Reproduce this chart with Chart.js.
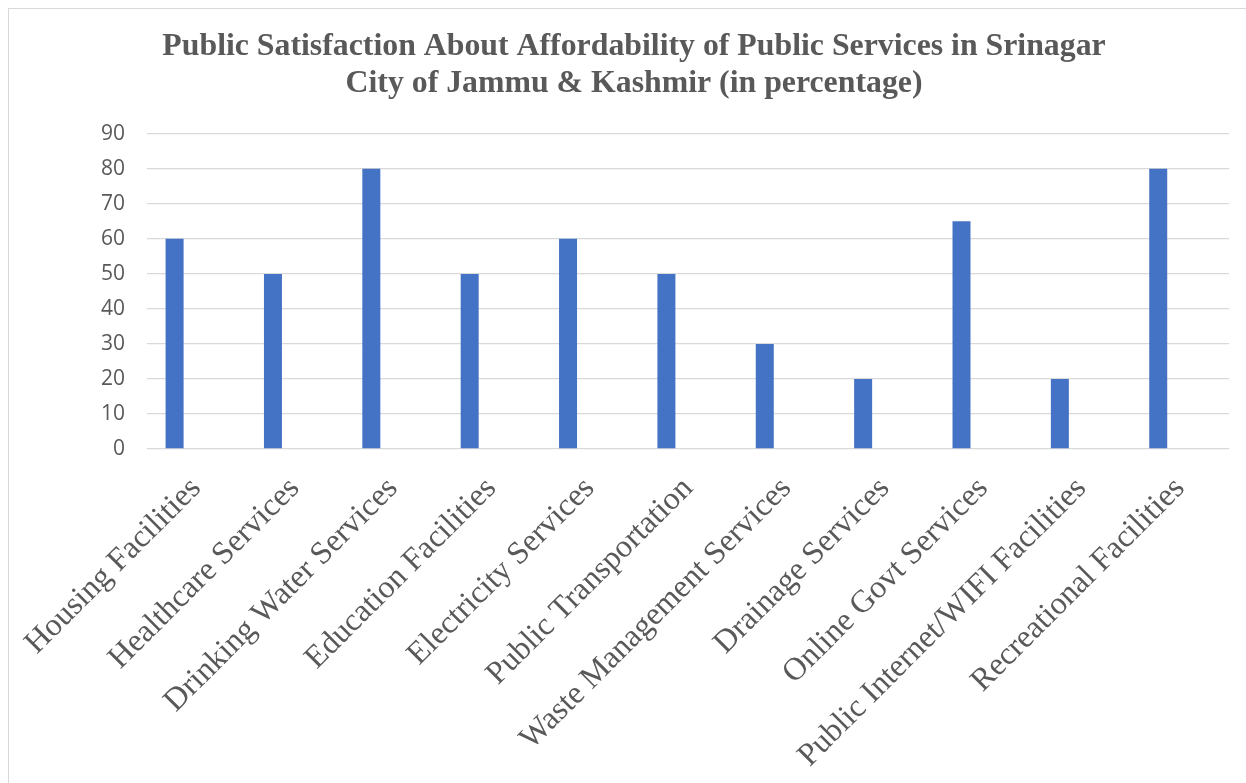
<!DOCTYPE html>
<html>
<head>
<meta charset="utf-8">
<title>Public Services Affordability</title>
<script src="https://cdn.jsdelivr.net/npm/chart.js@4.4.1/dist/chart.umd.min.js"></script>
<style>
  html, body { margin: 0; padding: 0; background: #fff; overflow: hidden; }
  #frame {
    position: absolute; left: 8px; top: 8px;
    width: 1400px; height: 900px;
    border-left: 1px solid #d9d9d9; border-top: 1px solid #d9d9d9;
  }
  #box { position: absolute; left: 0; top: 0; width: 1237px; height: 774px; }
</style>
</head>
<body>
<div id="frame"><div id="box"><canvas id="bar-chart"></canvas></div></div>
<script>
const categories = [
  "Housing Facilities", "Healthcare Services", "Drinking Water Services",
  "Education Facilities", "Electricity Services", "Public Transportation",
  "Waste Management Services", "Drainage Services", "Online Govt Services",
  "Public Internet/WIFI Facilities", "Recreational Facilities"
];
const satisfaction = [60, 50, 80, 50, 60, 50, 30, 20, 65, 20, 80];
// second series is empty, it only keeps the bar on the left of each slot
const emptySeries = [];
const yTicks = [0, 10, 20, 30, 40, 50, 60, 70, 80, 90];

const grey = "#595959";

window.addEventListener("load", () => {
  new Chart(document.getElementById("bar-chart"), {
    type: "bar",
    data: {
      labels: categories,
      datasets: [
        { label: "Series1", data: satisfaction, backgroundColor: "#4472c4",
          categoryPercentage: 0.878, barPercentage: 0.4167 },
        { label: "Series2", data: emptySeries, backgroundColor: "#ed7d31",
          categoryPercentage: 0.878, barPercentage: 0.4167 }
      ]
    },
    options: {
      responsive: true,
      maintainAspectRatio: false,
      animation: false,
      layout: { padding: { left: 30, right: 17, top: 0, bottom: 0 } },
      plugins: {
        legend: { display: false },
        tooltip: { enabled: false },
        title: {
          display: true,
          text: ["Public Satisfaction About Affordability of Public Services in Srinagar",
                 "City of Jammu & Kashmir (in percentage)"],
          color: grey,
          font: { family: "'Liberation Serif', 'Times New Roman', serif", size: 31.8, weight: "bold", lineHeight: 1.16 },
          padding: { top: 19, bottom: 32 }
        }
      },
      scales: {
        x: {
          grid: { display: false },
          border: { display: false },
          ticks: {
            color: grey,
            autoSkip: false,
            minRotation: 45,
            maxRotation: 45,
            padding: 13,
            font: { family: "'Liberation Serif', 'Times New Roman', serif", size: 32 }
          },
          afterFit: (scale) => {
            scale.height = 334;
            scale.paddingLeft = 0;
            scale.paddingRight = 0;
          }
        },
        y: {
          min: 0,
          max: 90,
          afterBuildTicks: (scale) => { scale.ticks = yTicks.map(v => ({ value: v })); },
          grid: { color: "#d9d9d9", lineWidth: 1.3, drawTicks: false },
          border: { display: false },
          ticks: {
            color: grey,
            padding: 22,
            font: { family: "'Open Sans', sans-serif", size: 21 }
          },
          afterFit: (scale) => { scale.width = 108; }
        }
      }
    }
  });
});
</script>
</body>
</html>
